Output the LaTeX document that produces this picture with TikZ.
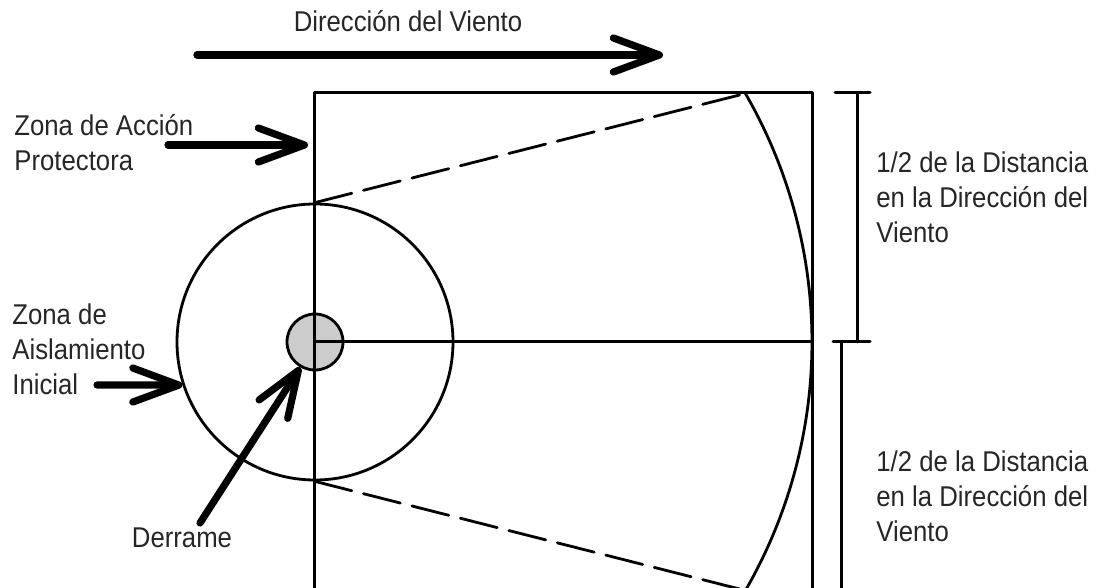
\documentclass[tikz,border=0pt]{standalone}
\usepackage{fontspec}
\setmainfont{Liberation Sans}[FakeStretch=0.9]
\usetikzlibrary{arrows.meta}
\begin{document}
\begin{tikzpicture}[x=0.5pt, y=-0.5pt, line cap=round, line join=round,
    >={Straight Barb[length=23pt,width=17pt,round]},
    bigarrow/.style={->, line width=3.6pt},
    outline/.style={line width=1.5pt},
    thin/.style={line width=1.4pt},
    txt/.style={inner sep=0pt, align=left, text=black!85,
      font=\fontsize{14.3}{17.5}\selectfont}]
    % ==== FRAME ====
    \useasboundingbox (0,0) rectangle (1104,588);
    \clip (0,0) rectangle (1104,588);

    % ==== SPILL AND ISOLATION ZONE ====
    \coordinate (spill) at (315,342);
    \node[circle, draw, thin, fill=gray!40, minimum size=28pt, inner sep=0pt] (pool) at (spill) {};
    \node[circle, draw, thin, minimum size=138pt, inner sep=0pt] (isolation) at (spill) {};

    % ==== PROTECTIVE ACTION ZONE ====
    \draw[outline] (314,93) rectangle (812,591);
    \draw[outline] (spill) -- (812,342);
    \draw[thin] (745.4,93.5) arc[start angle=-30, end angle=30, radius=497];
    \draw[thin, dash pattern=on 19pt off 6pt] (isolation.north) -- (745.4,93.5);
    \draw[thin, dash pattern=on 19pt off 6pt] (isolation.south) -- (745.4,590.5);

    % ==== HALF DISTANCE MARKS ====
    \draw[outline] (835,93) -- (870,93);
    \draw[outline] (857,93) -- (857,342);
    \draw[outline] (833,342) -- (870,342);
    \draw[outline] (841,342) -- (841,591);

    % ==== LABELS ====
    \node[txt] (windtext) at (408,21) {Dirección del Viento};
    \node[txt, anchor=west] (protect) at (14,143) {Zona de Acción\\Protectora};
    \node[txt, anchor=west] (isol) at (12,349) {Zona de\\Aislamiento\\Inicial};
    \node[txt] (spilltext) at (182,538) {Derrame};
    \node[txt, anchor=west] (halfup) at (876,197) {1/2 de la Distancia\\en la Dirección del\\Viento};
    \node[txt, anchor=west] (halfdown) at (876,496) {1/2 de la Distancia\\en la Dirección del\\Viento};

    % ==== ARROWS ====
    \coordinate (windstart) at (197,55);
    \coordinate (windend) at (663,55);
    \coordinate (protstart) at (168,145);
    \coordinate (protend) at (308,145);
    \coordinate (isolstart) at (97,385);
    \coordinate (spillstart) at (200,523);
    \draw[bigarrow] (windstart) -- (windend);
    \draw[bigarrow] (protstart) -- (protend);
    \draw[bigarrow] (isolstart) -- (isolation.198);
    \draw[bigarrow] (spillstart) -- (pool.240);
\end{tikzpicture}
\end{document}
